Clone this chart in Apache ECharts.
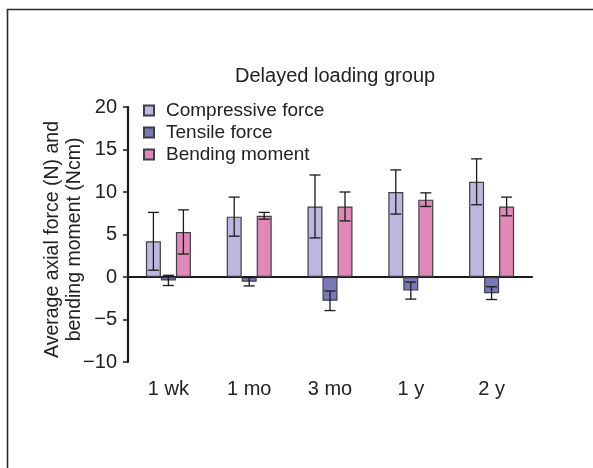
<!DOCTYPE html>
<html>
<head>
<meta charset="utf-8">
<script src="https://cdn.jsdelivr.net/npm/echarts@6/dist/echarts.min.js"></script>
<style>
html,body{margin:0;padding:0;background:#fff;}
#chart{width:593px;height:468px;}
</style>
</head>
<body>
<div id="chart"></div>
<script>
var categories = ['1 wk', '1 mo', '3 mo', '1 y', '2 y'];
var compressive = [4.2, 7.1, 8.3, 10.0, 11.2];
var compressiveErr = [3.4, 2.3, 3.7, 2.6, 2.7];
var tensile = [-0.4, -0.55, -2.8, -1.6, -1.9];
var tensileErr = [0.6, 0.5, 1.15, 1.0, 0.75];
var bending = [5.3, 7.2, 8.3, 9.1, 8.3];
var bendingErr = [2.6, 0.4, 1.7, 0.8, 1.1];
var yTicks = { min: -10, max: 20, interval: 5 };

var FONT = "'Liberation Sans', Arial, sans-serif";
var BAR_W = 15;
var chart = echarts.init(document.getElementById('chart'));

function errData(vals, errs) {
  return vals.map(function (v, i) { return [i, v, errs[i]]; });
}
function errSeries(vals, errs, offset) {
  return {
    type: 'custom',
    z: 10,
    silent: true,
    data: errData(vals, errs),
    renderItem: function (params, api) {
      var i = api.value(0), v = api.value(1), e = api.value(2);
      var hi = api.coord([i, v + e]);
      var lo = api.coord([i, v - e]);
      var x = hi[0] + offset;
      var cap = 5.5;
      var st = { stroke: '#1a1a1a', lineWidth: 1.3 };
      return {
        type: 'group',
        children: [
          { type: 'line', shape: { x1: x, y1: hi[1], x2: x, y2: lo[1] }, style: st },
          { type: 'line', shape: { x1: x - cap, y1: hi[1], x2: x + cap, y2: hi[1] }, style: st },
          { type: 'line', shape: { x1: x - cap, y1: lo[1], x2: x + cap, y2: lo[1] }, style: st }
        ]
      };
    }
  };
}

var barBorder = { borderColor: '#3d3d45', borderWidth: 1.2 };
var option = {
  animation: false,
  backgroundColor: '#fff',
  graphic: [{
    type: 'rect', left: 5, top: 7, z: -1,
    shape: { width: 700, height: 600 },
    style: { fill: 'none', stroke: '#2a2a2a', lineWidth: 1.6 }
  }],
  title: {
    text: 'Delayed loading group',
    left: 230, top: 61,
    textStyle: { fontFamily: FONT, fontSize: 20, fontWeight: 'normal', color: '#222' }
  },
  legend: {
    orient: 'vertical', left: 138, top: 96,
    itemWidth: 10, itemHeight: 10, itemGap: 3,
    icon: 'rect',
    textStyle: { fontFamily: FONT, fontSize: 19, color: '#222', padding: [0, 0, 0, 7] },
    data: ['Compressive force', 'Tensile force', 'Bending moment']
  },
  grid: { left: 128, top: 107, width: 404, height: 255, containLabel: false },
  xAxis: {
    type: 'category',
    data: categories,
    axisLine: { lineStyle: { color: '#1a1a1a', width: 2.2 } },
    axisTick: { show: false },
    axisLabel: { fontFamily: FONT, fontSize: 20, color: '#222', margin: 17 }
  },
  yAxis: {
    type: 'value',
    min: yTicks.min, max: yTicks.max, interval: yTicks.interval,
    name: 'Average axial force (N) and\nbending moment (Ncm)',
    nameLocation: 'middle', nameGap: 42, nameMoveOverlap: false,
    nameTextStyle: { fontFamily: FONT, fontSize: 19.5, color: '#222', lineHeight: 22, align: 'center',
      padding: [0, 10, 0, 0] },
    splitLine: { show: false },
    axisLine: { show: true, lineStyle: { color: '#1a1a1a', width: 2.2 } },
    axisTick: { show: true, length: 5, lineStyle: { color: '#1a1a1a', width: 1.5 } },
    axisLabel: { fontFamily: FONT, fontSize: 20, color: '#222', margin: 11,
      formatter: function (v) { return v < 0 ? '\u2212' + Math.abs(v) : String(v); } }
  },
  series: [
    { name: 'Compressive force', type: 'bar', barWidth: BAR_W, barGap: '0%',
      itemStyle: Object.assign({ color: '#bcb7de' }, barBorder), data: compressive },
    { name: 'Tensile force', type: 'bar', barWidth: BAR_W, barGap: '0%',
      itemStyle: Object.assign({ color: '#7c77b7' }, barBorder), data: tensile },
    { name: 'Bending moment', type: 'bar', barWidth: BAR_W, barGap: '0%',
      itemStyle: Object.assign({ color: '#e088b8' }, barBorder), data: bending },
    errSeries(compressive, compressiveErr, -BAR_W),
    errSeries(tensile, tensileErr, 0),
    errSeries(bending, bendingErr, BAR_W)
  ]
};
chart.setOption(option);
</script>
</body>
</html>
